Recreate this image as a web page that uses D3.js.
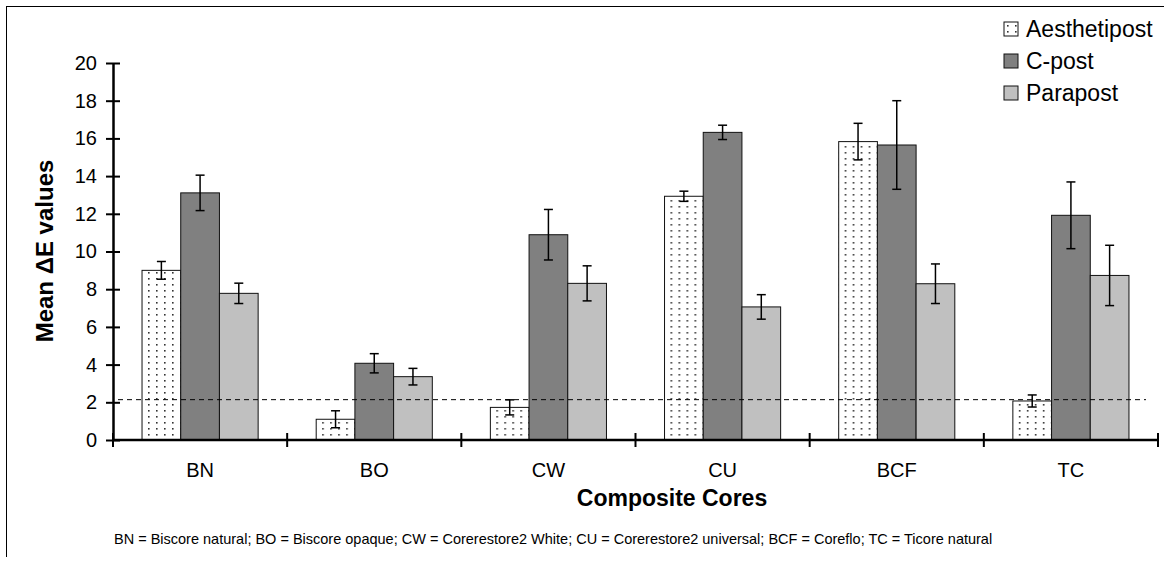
<!DOCTYPE html>
<html>
<head>
<meta charset="utf-8">
<script src="https://cdn.jsdelivr.net/npm/d3@7"></script>
<style>
  body { margin: 0; background: #fff; }
  svg { display: block; font-family: "Liberation Sans", Arial, sans-serif; }
</style>
</head>
<body>
<svg id="chart" width="1164" height="562"></svg>
<script>
// data
const categories = ["BN", "BO", "CW", "CU", "BCF", "TC"];
const seriesNames = ["Aesthetipost", "C-post", "Parapost"];
const aesthetipost = [9.0, 1.1, 1.73, 12.93, 15.83, 2.07];
const cpost = [13.11, 4.07, 10.89, 16.32, 15.65, 11.92];
const parapost = [7.78, 3.36, 8.31, 7.06, 8.29, 8.73];
const aesthetipostErr = [0.47, 0.45, 0.4, 0.27, 0.97, 0.32];
const cpostErr = [0.94, 0.51, 1.34, 0.38, 2.35, 1.77];
const parapostErr = [0.54, 0.44, 0.93, 0.65, 1.05, 1.6];
const yTicks = [0, 2, 4, 6, 8, 10, 12, 14, 16, 18, 20];
const thresholdValue = 2.14;
const footnote = "BN = Biscore natural; BO = Biscore opaque; CW = Corerestore2 White; CU = Corerestore2 universal; BCF = Coreflo; TC = Ticore natural";

const fills = { "Aesthetipost": "url(#dots)", "C-post": "#808080", "Parapost": "#c0c0c0" };

const rows = categories.map((c, i) => ({
    cat: c,
    bars: [
        { s: "Aesthetipost", v: aesthetipost[i], e: aesthetipostErr[i] },
        { s: "C-post", v: cpost[i], e: cpostErr[i] },
        { s: "Parapost", v: parapost[i], e: parapostErr[i] }
    ]
}));

const plot = { left: 113, right: 1158, top: 63, bottom: 440 };

const svg = d3.select("#chart");

// dotted fill used by Aesthetipost
const pat = svg.append("defs").append("pattern")
    .attr("id", "dots")
    .attr("patternUnits", "userSpaceOnUse")
    .attr("width", 8).attr("height", 6);
pat.append("rect").attr("width", 8).attr("height", 6).attr("fill", "#fff");
pat.append("rect").attr("x", 3).attr("y", 2).attr("width", 1.6).attr("height", 1.6).attr("fill", "#333");

// chart area frame (only top and left edges are visible)
svg.append("line").attr("x1", 6).attr("x2", 1164).attr("y1", 6.5).attr("y2", 6.5)
    .attr("stroke", "#000").attr("stroke-width", 1);
svg.append("line").attr("x1", 6.5).attr("x2", 6.5).attr("y1", 6).attr("y2", 557)
    .attr("stroke", "#000").attr("stroke-width", 1);

const x0 = d3.scaleBand().domain(categories).range([plot.left, plot.right]).padding(0);
const x1 = d3.scaleBand().domain(seriesNames).range([0, x0.bandwidth()])
    .paddingInner(0).paddingOuter(0.75);
const y = d3.scaleLinear().domain([0, 20]).range([plot.bottom, plot.top]);

// bars
const groups = svg.append("g").selectAll("g")
    .data(rows).join("g")
    .attr("transform", d => `translate(${x0(d.cat)},0)`);

groups.selectAll("rect")
    .data(d => d.bars).join("rect")
    .attr("x", d => x1(d.s))
    .attr("y", d => y(d.v))
    .attr("width", x1.bandwidth())
    .attr("height", d => y(0) - y(d.v))
    .attr("fill", d => fills[d.s])
    .attr("stroke", "#111")
    .attr("stroke-width", 1);

// threshold line
svg.append("line")
    .attr("x1", plot.left + 5).attr("x2", plot.right - 12)
    .attr("y1", y(thresholdValue)).attr("y2", y(thresholdValue))
    .attr("stroke", "#000").attr("stroke-width", 1)
    .attr("stroke-dasharray", "5,4");

// error bars
const eb = groups.selectAll("g.err")
    .data(d => d.bars).join("g").attr("class", "err")
    .attr("stroke", "#000").attr("stroke-width", 1.5);
eb.append("line")
    .attr("x1", d => x1(d.s) + x1.bandwidth() / 2)
    .attr("x2", d => x1(d.s) + x1.bandwidth() / 2)
    .attr("y1", d => y(d.v + d.e)).attr("y2", d => y(d.v - d.e));
eb.append("line")
    .attr("x1", d => x1(d.s) + x1.bandwidth() / 2 - 4.5)
    .attr("x2", d => x1(d.s) + x1.bandwidth() / 2 + 4.5)
    .attr("y1", d => y(d.v + d.e)).attr("y2", d => y(d.v + d.e));
eb.append("line")
    .attr("x1", d => x1(d.s) + x1.bandwidth() / 2 - 4.5)
    .attr("x2", d => x1(d.s) + x1.bandwidth() / 2 + 4.5)
    .attr("y1", d => y(d.v - d.e)).attr("y2", d => y(d.v - d.e));

// y axis
const yAxis = svg.append("g")
    .attr("transform", `translate(${plot.left},0)`)
    .call(d3.axisLeft(y).tickValues(yTicks).tickSize(7).tickSizeOuter(0));
yAxis.select(".domain").attr("stroke", "#000").attr("stroke-width", 2.5);
yAxis.selectAll(".tick line").attr("x1", -7).attr("x2", 7)
    .attr("stroke", "#000").attr("stroke-width", 2);
yAxis.selectAll(".tick text").attr("x", -16)
    .style("font-size", "20px").style("font-family", "Liberation Sans, Arial, sans-serif")
    .attr("fill", "#000");

// x axis: boundary ticks + centred labels
const xAxis = svg.append("g");
xAxis.append("line")
    .attr("x1", plot.left).attr("x2", plot.right)
    .attr("y1", y(0)).attr("y2", y(0))
    .attr("stroke", "#000").attr("stroke-width", 2.5);
const bounds = categories.map(c => x0(c)).concat([x0.range()[1]]);
xAxis.selectAll("line.xt")
    .data(bounds).join("line").attr("class", "xt")
    .attr("x1", d => d).attr("x2", d => d)
    .attr("y1", y(0) - 7).attr("y2", y(0) + 7)
    .attr("stroke", "#000").attr("stroke-width", 2);
xAxis.selectAll("text")
    .data(categories).join("text")
    .attr("x", d => x0(d) + x0.bandwidth() / 2)
    .attr("y", 477)
    .attr("text-anchor", "middle")
    .style("font-size", "20px")
    .text(d => d);

// axis titles
svg.append("text")
    .attr("transform", "translate(53,251) rotate(-90)")
    .attr("text-anchor", "middle")
    .style("font-size", "24px").style("font-weight", "bold")
    .text("Mean \u0394E values");

svg.append("text")
    .attr("x", 672).attr("y", 506)
    .attr("text-anchor", "middle")
    .style("font-size", "23px").style("font-weight", "bold")
    .text("Composite Cores");

// footnote
svg.append("text")
    .attr("x", 114).attr("y", 544)
    .style("font-size", "14.5px")
    .text(footnote);

// legend
const legend = svg.append("g").selectAll("g")
    .data(seriesNames).join("g")
    .attr("transform", (d, i) => `translate(1004,${29 + i * 32})`);
legend.append("rect")
    .attr("x", 0).attr("y", -7).attr("width", 14).attr("height", 14)
    .attr("fill", d => fills[d]).attr("stroke", "#111").attr("stroke-width", 1);
legend.append("text")
    .attr("x", 22).attr("y", 8)
    .style("font-size", "23px")
    .text(d => d);
</script>
</body>
</html>
